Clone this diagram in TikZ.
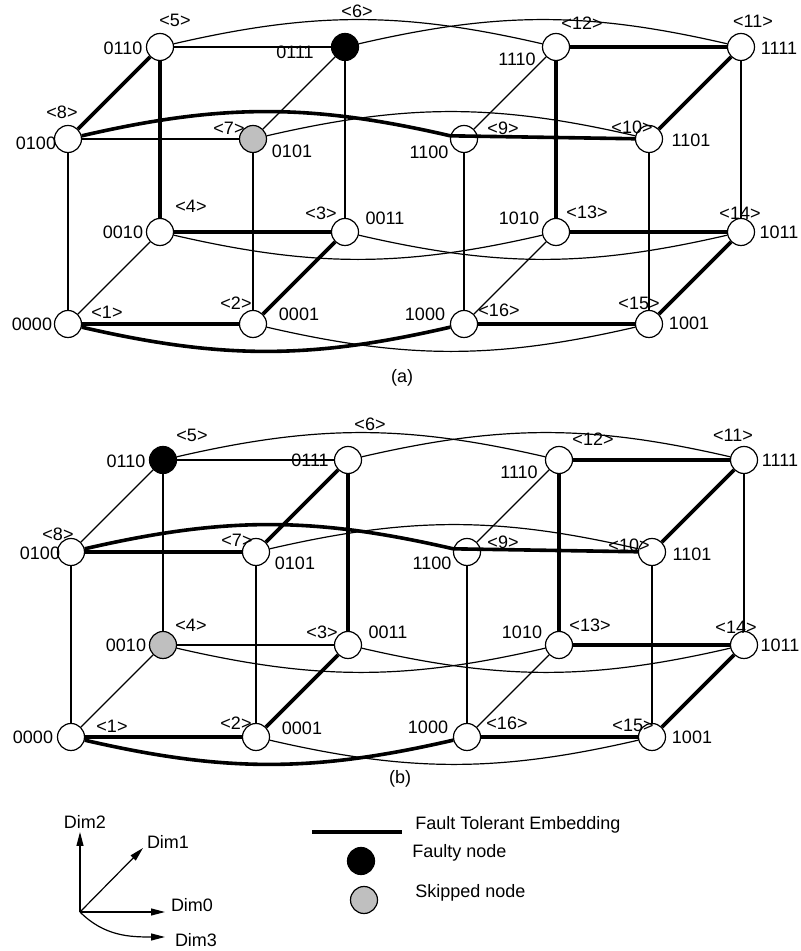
\documentclass[tikz,border=0pt]{standalone}
\usepackage{fontspec}
\setmainfont{Liberation Sans}
\usepackage{tikz}
\usetikzlibrary{arrows.meta}

\begin{document}
\begin{tikzpicture}[x=0.5pt, y=0.5pt, every node/.style={font=\fontsize{9}{10}\selectfont},
    vert/.style={circle, draw, fill=white, minimum size=13.5pt, inner sep=0pt, line width=0.6pt},
    falho/.style={fill=black},
    pulado/.style={fill=gray!50},
    fina/.style={line width=0.6pt},
    grossa/.style={line width=1.8pt},
    seta/.style={line width=0.6pt, -{Triangle[length=7pt, width=3.5pt]}}]
    \useasboundingbox (0,0) rectangle (801,951);

    % Hipercubo (a): vertices
    \node[vert] (a0000) at (68,627) {};
    \node[vert] (a0001) at (253,627) {};
    \node[vert] (a0010) at (160,719) {};
    \node[vert] (a0011) at (345,719) {};
    \node[vert] (a0100) at (68,812) {};
    \node[vert, pulado] (a0101) at (253,812) {};
    \node[vert] (a0110) at (160,904) {};
    \node[vert, falho] (a0111) at (345,904) {};
    \node[vert] (a1000) at (464,627) {};
    \node[vert] (a1001) at (649,627) {};
    \node[vert] (a1010) at (556,719) {};
    \node[vert] (a1011) at (741,719) {};
    \node[vert] (a1100) at (464,812) {};
    \node[vert] (a1101) at (649,812) {};
    \node[vert] (a1110) at (556,904) {};
    \node[vert] (a1111) at (741,904) {};

    % Hipercubo (a): rotulos
    \node (ta0000) at (32,627) {0000};   \node (ia1) at (107,639) {<1>};
    \node (ta0001) at (299,637) {0001};  \node (ia2) at (236,648) {<2>};
    \node (ta0010) at (123,719) {0010};  \node (ia4) at (191,745) {<4>};
    \node (ta0011) at (385,733) {0011};  \node (ia3) at (321,738) {<3>};
    \node (ta0100) at (36,808) {0100};   \node (ia8) at (62,839) {<8>};
    \node (ta0101) at (292,800) {0101};  \node (ia7) at (229,823) {<7>};
    \node (ta0110) at (123,903) {0110};  \node (ia5) at (175,931) {<5>};
    \node (ta0111) at (295,899) {0111};  \node (ia6) at (357,940) {<6>};
    \node (ta1000) at (425,637) {1000};  \node (ia16) at (499,641) {<16>};
    \node (ta1001) at (689,628) {1001};  \node (ia15) at (639,648) {<15>};
    \node (ta1010) at (519,733) {1010};  \node (ia13) at (587,739) {<13>};
    \node (ta1011) at (779,719) {1011};  \node (ia14) at (740,738) {<14>};
    \node (ta1100) at (429,799) {1100};  \node (ia9) at (503,823) {<9>};
    \node (ta1101) at (691,811) {1101};  \node (ia10) at (632,824) {<10>};
    \node (ta1110) at (517,892) {1110};  \node (ia12) at (582,928) {<12>};
    \node (ta1111) at (779,903) {1111};  \node (ia11) at (753,930) {<11>};
    \node (capa) at (402,573) {(a)};

    % Hipercubo (a): arestas
    \draw[fina] (a0000) -- (a0100);
    \draw[fina] (a0000) -- (a0010);
    \draw[fina] (a0001) -- (a0101);
    \draw[fina] (a0011) -- (a0111);
    \draw[fina] (a0100) -- (a0101);
    \draw[fina] (a0101) -- (a0111);
    \draw[fina] (a0110) -- (a0111);
    \draw[fina] (a1000) -- (a1100);
    \draw[fina] (a1000) -- (a1010);
    \draw[fina] (a1001) -- (a1101);
    \draw[fina] (a1011) -- (a1111);
    \draw[fina] (a1100) -- (a1110);
    \draw[fina] (a0110) to[bend left=13] (a1110);
    \draw[fina] (a0111) to[bend left=13] (a1111);
    \draw[fina] (a0101) to[bend left=13] (a1101);
    \draw[fina] (a0010) to[bend right=13] (a1010);
    \draw[fina] (a0011) to[bend right=13] (a1011);
    \draw[fina] (a0001) to[bend right=13] (a1001);
    \draw[grossa] (a0000) -- (a0001) -- (a0011) -- (a0010) -- (a0110) -- (a0100)
      to[bend left=13] (a1100) -- (a1101) -- (a1111) -- (a1110) -- (a1010)
      -- (a1011) -- (a1001) -- (a1000) to[bend left=13] (a0000);

    % Hipercubo (b): vertices
    \node[vert] (b0000) at (71,214) {};
    \node[vert] (b0001) at (256,214) {};
    \node[vert, pulado] (b0010) at (163,306) {};
    \node[vert] (b0011) at (348,306) {};
    \node[vert] (b0100) at (71,399) {};
    \node[vert] (b0101) at (256,399) {};
    \node[vert, falho] (b0110) at (163,491) {};
    \node[vert] (b0111) at (348,491) {};
    \node[vert] (b1000) at (467,214) {};
    \node[vert] (b1001) at (652,214) {};
    \node[vert] (b1010) at (559,306) {};
    \node[vert] (b1011) at (744,306) {};
    \node[vert] (b1100) at (467,399) {};
    \node[vert] (b1101) at (652,399) {};
    \node[vert] (b1110) at (559,491) {};
    \node[vert] (b1111) at (744,491) {};

    % Hipercubo (b): rotulos
    \node (tb0000) at (33,214) {0000};   \node (ib1) at (112,225) {<1>};
    \node (tb0001) at (302,223) {0001};  \node (ib2) at (236,228) {<2>};
    \node (tb0010) at (126,306) {0010};  \node (ib4) at (191,326) {<4>};
    \node (tb0011) at (388,319) {0011};  \node (ib3) at (322,319) {<3>};
    \node (tb0100) at (40,398) {0100};   \node (ib8) at (58,417) {<8>};
    \node (tb0101) at (295,388) {0101};  \node (ib7) at (237,411) {<7>};
    \node (tb0110) at (126,490) {0110};  \node (ib5) at (192,516) {<5>};
    \node (tb0111) at (310,491) {0111};  \node (ib6) at (370,527) {<6>};
    \node (tb1000) at (428,224) {1000};  \node (ib16) at (507,228) {<16>};
    \node (tb1001) at (692,214) {1001};  \node (ib15) at (633,226) {<15>};
    \node (tb1010) at (522,319) {1010};  \node (ib13) at (590,326) {<13>};
    \node (tb1011) at (780,306) {1011};  \node (ib14) at (736,324) {<14>};
    \node (tb1100) at (432,388) {1100};  \node (ib9) at (503,409) {<9>};
    \node (tb1101) at (692,397) {1101};  \node (ib10) at (629,406) {<10>};
    \node (tb1110) at (519,479) {1110};  \node (ib12) at (593,512) {<12>};
    \node (tb1111) at (780,491) {1111};  \node (ib11) at (733,516) {<11>};
    \node (capb) at (400,172) {(b)};

    % Hipercubo (b): arestas
    \draw[fina] (b0000) -- (b0100);
    \draw[fina] (b0000) -- (b0010);
    \draw[fina] (b0001) -- (b0101);
    \draw[fina] (b0010) -- (b0011);
    \draw[fina] (b0010) -- (b0110);
    \draw[fina] (b0110) -- (b0100);
    \draw[fina] (b0110) -- (b0111);
    \draw[fina] (b1000) -- (b1100);
    \draw[fina] (b1000) -- (b1010);
    \draw[fina] (b1001) -- (b1101);
    \draw[fina] (b1011) -- (b1111);
    \draw[fina] (b1100) -- (b1110);
    \draw[fina] (b0110) to[bend left=13] (b1110);
    \draw[fina] (b0111) to[bend left=13] (b1111);
    \draw[fina] (b0101) to[bend left=13] (b1101);
    \draw[fina] (b0010) to[bend right=13] (b1010);
    \draw[fina] (b0011) to[bend right=13] (b1011);
    \draw[fina] (b0001) to[bend right=13] (b1001);
    \draw[grossa] (b0000) -- (b0001) -- (b0011) -- (b0111) -- (b0101) -- (b0100)
      to[bend left=13] (b1100) -- (b1101) -- (b1111) -- (b1110) -- (b1010)
      -- (b1011) -- (b1001) -- (b1000) to[bend left=13] (b0000);

    % Eixos das dimensoes
    \coordinate (O) at (80,39);
    \coordinate (d2) at (80,119);
    \coordinate (d1) at (143,103);
    \coordinate (d0) at (165,39);
    \coordinate (d3) at (165,14);
    \draw[seta] (O) -- (d2);
    \draw[seta] (O) -- (d1);
    \draw[seta] (O) -- (d0);
    \draw[seta] (O) to[out=-45, in=180] (d3);
    \node (tdim2) at (85,129) {Dim2};
    \node (tdim1) at (168,109) {Dim1};
    \node (tdim0) at (192,46) {Dim0};
    \node (tdim3) at (196,11) {Dim3};

    % Legenda
    \coordinate (leg1) at (312,119);
    \coordinate (leg2) at (402,119);
    \draw[grossa] (leg1) -- (leg2);
    \node[anchor=west, inner sep=0pt] (tleg1) at (415,126) {Fault Tolerant Embedding};
    \node[vert, falho] (legfalho) at (361,90) {};
    \node[anchor=west, inner sep=0pt] (tleg2) at (412,98) {Faulty node};
    \node[vert, pulado] (legpulado) at (364,51) {};
    \node[anchor=west, inner sep=0pt] (tleg3) at (415,58) {Skipped node};
  \end{tikzpicture}
\end{document}
